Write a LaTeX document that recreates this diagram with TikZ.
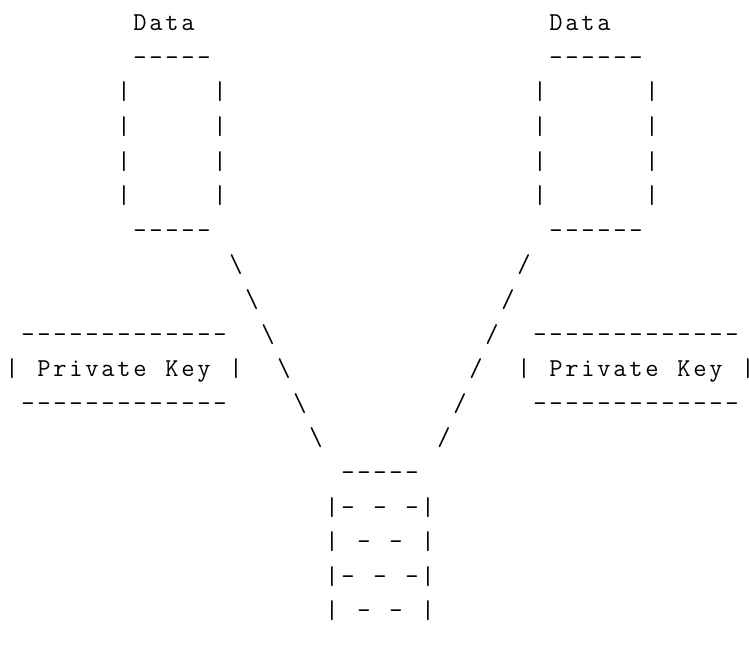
\documentclass[tikz,border=0pt]{standalone}
\usepackage{tikz}
\tikzset{
    glyph/.style={anchor=base, inner sep=0pt, outer sep=0pt, font=\ttfamily\fontsize{19.3}{23}\selectfont, text=black}
}

\begin{document}
\begin{tikzpicture}[x=12pt, y=-25.95pt]
    \useasboundingbox (-0.25,-0.886) rectangle (46.5625,17.754);

    % Left data block
    \foreach \ch [count=\i from 8] in {D,a,t,a}
        \node[glyph] (DataL\i) at (\i+0.5,0) {\ch};
    \foreach \i in {8,...,12} {
        \node[glyph] (TopL\i) at (\i+0.5,1) {-};
        \node[glyph] (BotL\i) at (\i+0.5,6) {-};
    }
    \foreach \k in {2,...,5} {
        \node[glyph] (SideLa\k) at (7.5,\k) {|};
        \node[glyph] (SideLb\k) at (13.5,\k) {|};
    }

    % Right data block
    \foreach \ch [count=\i from 34] in {D,a,t,a}
        \node[glyph] (DataR\i) at (\i+0.5,0) {\ch};
    \foreach \i in {34,...,39} {
        \node[glyph] (TopR\i) at (\i+0.5,1) {-};
        \node[glyph] (BotR\i) at (\i+0.5,6) {-};
    }
    \foreach \k in {2,...,5} {
        \node[glyph] (SideRa\k) at (33.5,\k) {|};
        \node[glyph] (SideRb\k) at (40.5,\k) {|};
    }

    % Slanted links
    \foreach \k in {0,...,5} {
        \node[glyph] (BackSl\k) at (14.5+\k,7+\k) {\textbackslash};
        \node[glyph] (FwdSl\k) at (32.5-\k,7+\k) {/};
    }

    % Left key
    \foreach \i in {1,...,13} {
        \node[glyph] (KeyTopL\i) at (\i+0.5,9) {-};
        \node[glyph] (KeyBotL\i) at (\i+0.5,11) {-};
    }
    \node[glyph] (KeyLa) at (0.5,10) {|};
    \node[glyph] (KeyLb) at (14.5,10) {|};
    \foreach \ch [count=\i from 2] in {P,r,i,v,a,t,e}
        \node[glyph] (PrivL\i) at (\i+0.5,10) {\ch};
    \foreach \ch [count=\i from 10] in {K,e,y}
        \node[glyph] (WordL\i) at (\i+0.5,10) {\ch};

    % Right key
    \foreach \i in {33,...,45} {
        \node[glyph] (KeyTopR\i) at (\i+0.5,9) {-};
        \node[glyph] (KeyBotR\i) at (\i+0.5,11) {-};
    }
    \node[glyph] (KeyRa) at (32.5,10) {|};
    \node[glyph] (KeyRb) at (46.5,10) {|};
    \foreach \ch [count=\i from 34] in {P,r,i,v,a,t,e}
        \node[glyph] (PrivR\i) at (\i+0.5,10) {\ch};
    \foreach \ch [count=\i from 42] in {K,e,y}
        \node[glyph] (WordR\i) at (\i+0.5,10) {\ch};

    % Combined block
    \foreach \i in {21,...,25}
        \node[glyph] (StackTop\i) at (\i+0.5,13) {-};
    \foreach \k in {14,...,17} {
        \node[glyph] (StackLa\k) at (20.5,\k) {|};
        \node[glyph] (StackLb\k) at (26.5,\k) {|};
    }
    \foreach \k in {14,16}
        \foreach \i in {21,23,25}
            \node[glyph] (StackOdd\k-\i) at (\i+0.5,\k) {-};
    \foreach \k in {15,17}
        \foreach \i in {22,24}
            \node[glyph] (StackEven\k-\i) at (\i+0.5,\k) {-};
\end{tikzpicture}
\end{document}
